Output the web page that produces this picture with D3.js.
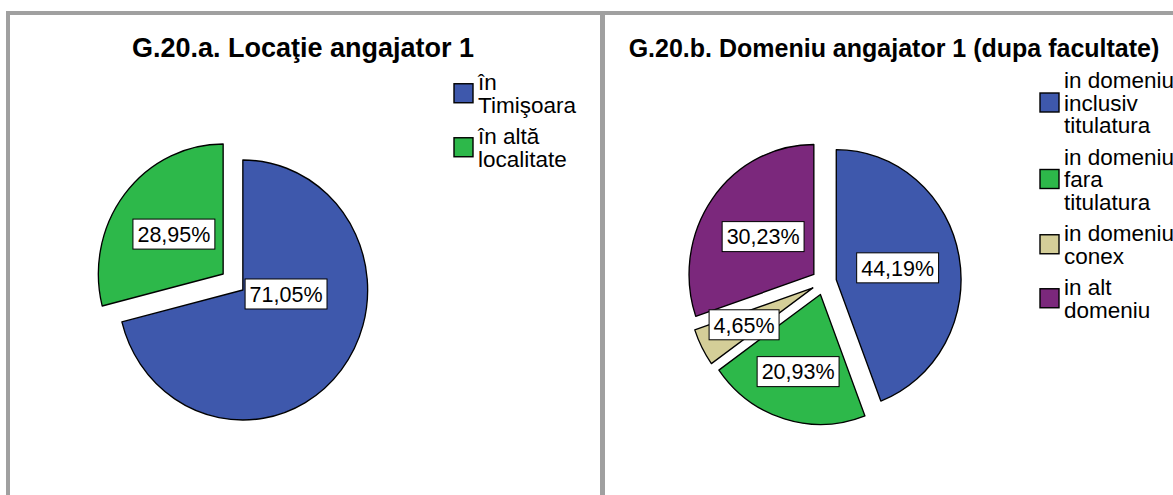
<!DOCTYPE html>
<html>
<head>
<meta charset="utf-8">
<script src="https://cdn.jsdelivr.net/npm/d3@7"></script>
<style>
  body { margin: 0; background: #fff; }
  text { font-family: "Liberation Sans", Arial, sans-serif; }
</style>
</head>
<body>
<div id="vis"></div>
<script>
// data
const leftTitle = "G.20.a. Locaţie angajator 1";
const leftCategories = ["în Timişoara", "în altă localitate"];
const leftLegendLines = [["în", "Timişoara"], ["în altă", "localitate"]];
const leftValues = [71.05, 28.95];

const rightTitle = "G.20.b. Domeniu angajator 1 (dupa facultate)";
const rightCategories = ["in domeniu inclusiv titulatura", "in domeniu fara titulatura", "in domeniu conex", "in alt domeniu"];
const rightLegendLines = [["in domeniu", "inclusiv", "titulatura"], ["in domeniu", "fara", "titulatura"], ["in domeniu", "conex"], ["in alt", "domeniu"]];
const rightValues = [44.19, 20.93, 4.65, 30.23];

const leftColors = ["#3e58ac", "#2db84a"];
const rightColors = ["#3e58ac", "#2db84a", "#d4ce98", "#7b287c"];

const width = 1173, height = 495;

const svg = d3.select("#vis")
    .append("svg")
    .attr("width", width)
    .attr("height", height);

svg.append("rect").attr("width", width).attr("height", height).attr("fill", "#fff");

// gray frame of the two panels
const frame = svg.append("g").attr("fill", "#a0a0a0");
frame.append("rect").attr("x", 6).attr("y", 11).attr("width", width - 6).attr("height", 4);
frame.append("rect").attr("x", 6).attr("y", 11).attr("width", 4).attr("height", height - 11);
frame.append("rect").attr("x", 600).attr("y", 11).attr("width", 5).attr("height", height - 11);

const fmt = (v) => d3.format(".2f")(v).replace(".", ",") + "%";

function drawPie(opts) {
  const g = svg.append("g");

  g.append("text")
      .attr("x", opts.titleX)
      .attr("y", 57)
      .attr("text-anchor", "middle")
      .attr("font-size", opts.titleSize)
      .attr("font-weight", "bold")
      .text(opts.title);

  const r = 130, sx = 0.96, explode = 13;
  const color = d3.scaleOrdinal().domain(opts.categories).range(opts.colors);
  const pie = d3.pie().sort(null).value((d) => d.value);
  const arc = d3.arc().innerRadius(0).outerRadius(r);
  const rows = opts.values.map((v, i) => ({ key: opts.categories[i], value: v }));
  const slices = pie(rows);

  const pieG = g.append("g")
      .attr("transform", "translate(" + opts.cx + "," + opts.cy + ") scale(" + sx + ",1)");

  pieG.selectAll("path")
      .data(slices)
      .enter()
      .append("path")
      .attr("d", arc)
      .attr("transform", (d) => {
        const m = (d.startAngle + d.endAngle) / 2;
        return "translate(" + (Math.sin(m) * explode) + "," + (-Math.cos(m) * explode) + ")";
      })
      .attr("fill", (d) => color(d.data.key))
      .attr("stroke", "#000")
      .attr("stroke-width", 1.4)
      .attr("stroke-linejoin", "round");

  // value labels in white boxes
  const labels = g.selectAll(".lbl")
      .data(slices)
      .enter()
      .append("g")
      .attr("class", "lbl")
      .attr("transform", (d) => {
        const frac = (d.endAngle - d.startAngle) / (2 * Math.PI);
        let ang = (d.startAngle + d.endAngle) / 2;
        let dist = explode + r * 0.5;
        if (frac < 0.25) dist = explode + r * 0.62;
        let x = Math.sin(ang) * explode, y = -Math.cos(ang) * explode;
        if (frac > 0.5) {
          // big slice: label sits just right of the tip
          ang = d.startAngle + Math.PI / 2;
          x += Math.sin(ang) * 45; y += -Math.cos(ang) * 45 + 4;
        } else {
          x = Math.sin(ang) * dist; y = -Math.cos(ang) * dist;
        }
        return "translate(" + (opts.cx + x * sx) + "," + (opts.cy + y) + ")";
      });

  labels.append("rect")
      .attr("fill", "#fff")
      .attr("stroke", "#000")
      .attr("stroke-width", 1);

  const txt = labels.append("text")
      .attr("text-anchor", "middle")
      .attr("dy", "0.36em")
      .attr("font-size", 21.5)
      .text((d) => fmt(d.data.value));

  txt.each(function () {
    const w = this.getComputedTextLength();
    d3.select(this.parentNode).select("rect")
        .attr("x", -w / 2 - 4.5)
        .attr("y", -15)
        .attr("width", w + 9)
        .attr("height", 30);
  });

  // legend
  const lineH = 22.5, gap = 9, sq = 19;
  let y = opts.legendY;
  opts.legendLines.forEach((lines, i) => {
    const top = y;
    lines.forEach((ln, j) => {
      g.append("text")
          .attr("x", opts.legendX + sq + 5)
          .attr("y", top + j * lineH)
          .attr("dy", "0.36em")
          .attr("font-size", 22.5)
          .text(ln);
    });
    const mid = top + (lines.length - 1) * lineH / 2;
    g.append("rect")
        .attr("x", opts.legendX)
        .attr("y", mid - sq / 2)
        .attr("width", sq)
        .attr("height", sq)
        .attr("fill", color(opts.categories[i]))
        .attr("stroke", "#000")
        .attr("stroke-width", 1.4);
    y = top + lines.length * lineH + gap;
  });
}

drawPie({
  title: leftTitle, titleX: 303, titleSize: 27,
  categories: leftCategories, values: leftValues, colors: leftColors,
  legendLines: leftLegendLines,
  cx: 233, cy: 282, legendX: 454, legendY: 82
});

drawPie({
  title: rightTitle, titleX: 894, titleSize: 25,
  categories: rightCategories, values: rightValues, colors: rightColors,
  legendLines: rightLegendLines,
  cx: 824, cy: 282, legendX: 1040, legendY: 80
});
</script>
</body>
</html>
